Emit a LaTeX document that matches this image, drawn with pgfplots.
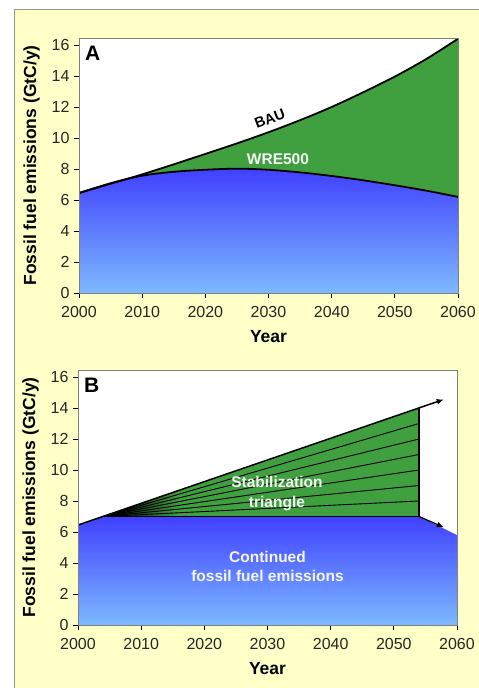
\documentclass[border=0pt]{standalone}
\usepackage{pgfplots}
\pgfplotsset{compat=1.18}
\usepackage{fontspec}
\setmainfont{Liberation Sans}
\usetikzlibrary{arrows.meta}
\definecolor{bgyellow}{RGB}{255,255,200}
\definecolor{bggrey}{RGB}{150,150,150}
\definecolor{mygreen}{RGB}{64,160,64}
\definecolor{bluetop}{RGB}{64,64,255}
\definecolor{bluebot}{RGB}{125,185,255}
\definecolor{txtwhite}{RGB}{245,245,245}

\pgfplotsset{
 panel/.style={
  scale only axis, width=379pt, height=255pt,
  xmin=2000,xmax=2060,ymin=0,ymax=16.45,
  xtick={2000,2010,...,2060}, ytick={0,2,...,16},
  tick align=outside, xtick pos=left, ytick pos=left,
  major tick length=5pt,
  tick style={black, line width=0.8pt},
  axis line style={draw=black!50, line width=0.8pt},
  axis background/.style={fill=white},
  axis on top=true,
  /pgf/number format/1000 sep={},
  /pgf/number format/assume math mode=true,
  ticklabel style={font=\fontsize{16}{18}\selectfont, text=black!85},
  xticklabel style={yshift=-5pt},
  yticklabel style={xshift=-1pt},
  xlabel={Year}, ylabel={Fossil fuel emissions (GtC/y)},
  label style={font=\bfseries\fontsize{17.5}{20}\selectfont},
  xlabel style={at={(axis description cs:0.5,-0.171)}, anchor=center},
  ylabel style={at={(axis description cs:-0.125,0.5)}, anchor=center},
 }
}

\pgfplotstableread{
x bau wre
2000 6.45 6.45
2005 7.05 7.08
2010 7.65 7.57
2015 8.30 7.82
2020 8.97 7.95
2025 9.65 8.02
2030 10.37 7.95
2035 11.15 7.78
2040 12.00 7.55
2045 12.95 7.27
2050 13.96 6.95
2055 15.10 6.60
2060 16.40 6.20
}\dataA

\begin{document}
\begin{tikzpicture}
\useasboundingbox (0,0) rectangle (479pt,688pt);
\fill[white] (0,0) rectangle (479pt,688pt);
\fill[bgyellow] (14pt,0) rectangle (479pt,678pt);
\draw[bggrey, line width=1pt] (14pt,0) -- (14pt,678pt) -- (479pt,678pt);

% Panel A
\begin{axis}[panel, at={(79pt,395pt)}, anchor=south west]
\addplot[draw=none, fill=mygreen, smooth] table[x=x,y=bau] {\dataA} \closedcycle;
\addplot[draw=none, top color=bluetop, bottom color=bluebot, smooth] table[x=x,y=wre] {\dataA} \closedcycle;
\addplot[black, line width=1.8pt, smooth] table[x=x,y=bau] {\dataA};
\addplot[black, line width=1.8pt, smooth] table[x=x,y=wre] {\dataA};
\node[rotate=20.5, font=\bfseries\fontsize{14.5}{17}\selectfont] at (axis cs:2030.2,11.25) {BAU};
\node[text=txtwhite, font=\bfseries\fontsize{15.5}{17}\selectfont] at (axis cs:2031.5,8.65) {WRE500};
\node[anchor=north west, inner sep=0pt, font=\bfseries\fontsize{21}{24}\selectfont] at (rel axis cs:0,1) [xshift=6pt, yshift=-8pt] {A};
\end{axis}

% Panel B
\begin{axis}[panel, at={(78pt,63pt)}, anchor=south west]
\addplot[draw=none, fill=mygreen] coordinates {(2000,6.45) (2054,14.01) (2054,7) (2004,7)};
\addplot[draw=none, left color=black, right color=mygreen] coordinates {(2004,7) (2016,8.69) (2016,7)};
\addplot[draw=none, top color=bluetop, bottom color=bluebot] coordinates {(2000,6.45) (2004,7) (2054,7) (2060,5.8)} \closedcycle;
\addplot[black, line width=0.9pt] coordinates {(2004,7) (2054,8)};
\addplot[black, line width=0.9pt] coordinates {(2004,7) (2054,9)};
\addplot[black, line width=0.9pt] coordinates {(2004,7) (2054,10)};
\addplot[black, line width=0.9pt] coordinates {(2004,7) (2054,11)};
\addplot[black, line width=0.9pt] coordinates {(2004,7) (2054,12)};
\addplot[black, line width=0.9pt] coordinates {(2004,7) (2054,13)};
\addplot[black, line width=1.5pt] coordinates {(2004,7) (2054,7)};
\addplot[black, line width=1.5pt] coordinates {(2054,7) (2054,14.01)};
\addplot[black, line width=1.5pt, -{Latex[length=7pt,width=6pt]}] coordinates {(2000,6.45) (2057.9,14.55)};
\addplot[black, line width=1.2pt, -{Latex[length=7pt,width=6pt]}] coordinates {(2054,7) (2057.9,6.3)};
\node[text=txtwhite, align=center, font=\bfseries\fontsize{15.5}{19.4}\selectfont] at (axis cs:2031.5,8.48) {Stabilization\\triangle};
\node[text=txtwhite, align=center, font=\bfseries\fontsize{15.5}{19.4}\selectfont] at (axis cs:2030,3.77) {Continued\\fossil fuel emissions};
\node[anchor=north west, inner sep=0pt, font=\bfseries\fontsize{21}{24}\selectfont] at (rel axis cs:0,1) [xshift=6pt, yshift=-8pt] {B};
\end{axis}
\end{tikzpicture}
\end{document}
